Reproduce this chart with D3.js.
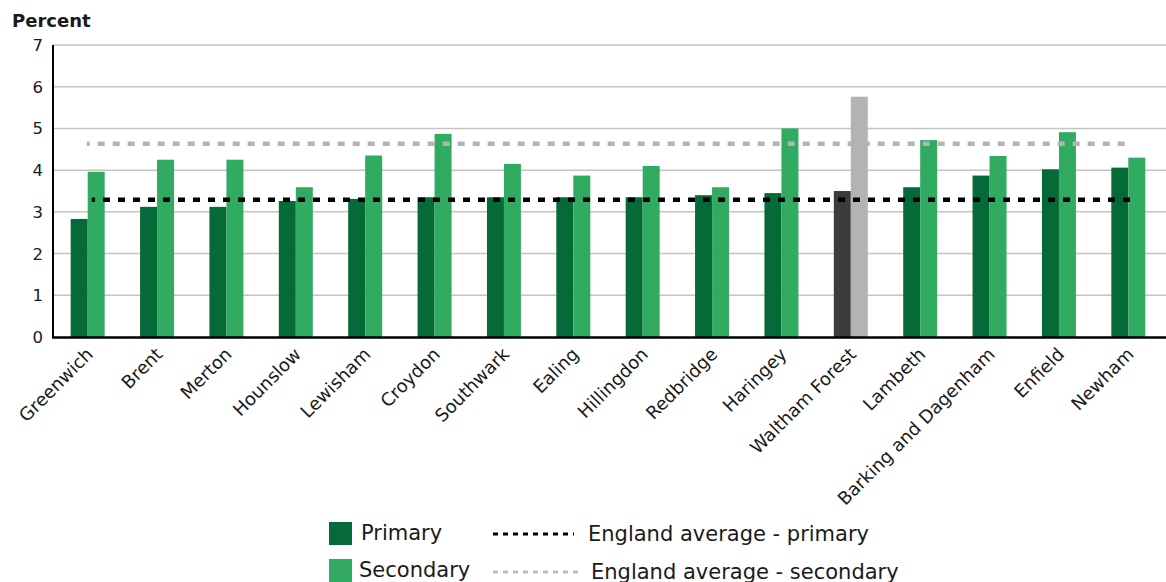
<!DOCTYPE html>
<html>
<head>
<meta charset="utf-8">
<script src="https://cdn.jsdelivr.net/npm/d3@7"></script>
<style>
  html, body { margin: 0; padding: 0; background: #fff; }
  svg { display: block; font-family: "DejaVu Sans", sans-serif; }
</style>
</head>
<body>
<svg id="chart" width="1166" height="582"></svg>
<script>
const categories = ["Greenwich","Brent","Merton","Hounslow","Lewisham","Croydon","Southwark","Ealing","Hillingdon","Redbridge","Haringey","Waltham Forest","Lambeth","Barking and Dagenham","Enfield","Newham"];
const primary   = [2.83,3.12,3.12,3.26,3.31,3.35,3.35,3.35,3.35,3.40,3.45,3.50,3.59,3.87,4.02,4.06];
const secondary = [3.96,4.25,4.25,3.59,4.35,4.87,4.15,3.87,4.10,3.59,5.00,5.76,4.72,4.34,4.91,4.30];
const englandPrimary = 3.29;
const englandSecondary = 4.63;
const yTicks = [0,1,2,3,4,5,6,7];
const highlight = "Waltham Forest";
const seriesNames = ["Primary","Secondary"];
const lineNames = ["England average - primary","England average - secondary"];

(function () {
const colors = { Primary: "#056a37", Secondary: "#31ab62" };
const hiColors = { Primary: "#3c3c3c", Secondary: "#b3b3b3" };

const svg = d3.select("#chart");
const mLeft = 53, mRight = 1163, mTop = 45, mBottom = 337;

const x0 = d3.scaleBand().domain(categories).range([mLeft, mRight]).paddingInner(0.51).paddingOuter(0.255);
const x1 = d3.scaleBand().domain(seriesNames).range([0, x0.bandwidth()]).padding(0);
const y = d3.scaleLinear().domain([0, 7]).range([mBottom, mTop]);

// gridlines
svg.append("g").selectAll("line").data(yTicks.filter(d => d > 0)).join("line")
  .attr("x1", mLeft).attr("x2", 1166)
  .attr("y1", d => y(d)).attr("y2", d => y(d))
  .attr("stroke", "#c4c4c4").attr("stroke-width", 1.5);

// y tick labels
svg.append("g").selectAll("text").data(yTicks).join("text")
  .attr("x", 43).attr("y", d => y(d)).attr("dy", "0.36em")
  .attr("text-anchor", "end").attr("font-size", 16.5).attr("fill", "#1a1a1a")
  .text(d => d);

// bars
const rows = categories.map((c, i) => ({ c, vals: [primary[i], secondary[i]] }));
const g = svg.append("g").selectAll("g").data(rows).join("g")
  .attr("transform", d => `translate(${x0(d.c)},0)`);
g.selectAll("rect").data(d => d.vals.map((v, j) => ({ c: d.c, s: seriesNames[j], v }))).join("rect")
  .attr("x", d => x1(d.s)).attr("width", x1.bandwidth())
  .attr("y", d => y(d.v)).attr("height", d => y(0) - y(d.v))
  .attr("fill", d => d.c === highlight ? hiColors[d.s] : colors[d.s]);

// England average lines
const firstC = x0(categories[0]) + x0.bandwidth() / 2;
const lastC = x0(categories[categories.length - 1]) + x0.bandwidth() / 2;
svg.append("line")
  .attr("x1", firstC - 1).attr("x2", lastC + 1)
  .attr("y1", y(englandSecondary)).attr("y2", y(englandSecondary))
  .attr("stroke", "#b3b3b3").attr("stroke-width", 4.5)
  .attr("stroke-dasharray", "7 8").attr("stroke-dashoffset", 4);
svg.append("line")
  .attr("x1", firstC + 4).attr("x2", lastC + 6)
  .attr("y1", y(englandPrimary)).attr("y2", y(englandPrimary))
  .attr("stroke", "#000").attr("stroke-width", 4.5)
  .attr("stroke-dasharray", "7 8").attr("stroke-dashoffset", 3.7);

// axes lines
svg.append("line").attr("x1", mLeft).attr("x2", mLeft).attr("y1", mTop).attr("y2", mBottom + 1)
  .attr("stroke", "#000").attr("stroke-width", 2);
svg.append("line").attr("x1", mLeft - 1).attr("x2", 1166).attr("y1", mBottom + 0.5).attr("y2", mBottom + 0.5)
  .attr("stroke", "#000").attr("stroke-width", 2.5);

// x labels
svg.append("g").selectAll("text").data(categories).join("text")
  .attr("transform", d => `translate(${x0(d) + x0.bandwidth() / 2 + 2},${mBottom + 14}) rotate(-45)`)
  .attr("text-anchor", "end").attr("dy", "0.35em")
  .attr("font-size", 18).attr("fill", "#1a1a1a")
  .text(d => d);

// axis title
svg.append("text").attr("x", 12).attr("y", 27).attr("font-size", 18).attr("font-weight", "bold")
  .attr("fill", "#1a1a1a").text("Percent");

// legend
const leg = svg.append("g");
leg.selectAll("rect").data(seriesNames).join("rect")
  .attr("x", 329).attr("y", (d, i) => 522 + i * 37).attr("width", 23).attr("height", 23)
  .attr("fill", d => colors[d]);
leg.selectAll("text.s").data(seriesNames).join("text").attr("class", "s")
  .attr("x", (d, i) => i === 0 ? 361 : 359).attr("y", (d, i) => 540 + i * 37)
  .attr("font-size", 21).attr("fill", "#1a1a1a").text(d => d);
leg.selectAll("line").data(lineNames).join("line")
  .attr("x1", 493).attr("x2", (d, i) => i === 0 ? 574 : 580)
  .attr("y1", (d, i) => 534 + i * 38).attr("y2", (d, i) => 534 + i * 38)
  .attr("stroke", (d, i) => i === 0 ? "#000" : "#bdbdbd").attr("stroke-width", 3)
  .attr("stroke-dasharray", "5 5");
leg.selectAll("text.l").data(lineNames).join("text").attr("class", "l")
  .attr("x", (d, i) => i === 0 ? 588 : 591).attr("y", (d, i) => 541 + i * 38)
  .attr("font-size", 21).attr("fill", "#1a1a1a").text(d => d);
})();
</script>
</body>
</html>
